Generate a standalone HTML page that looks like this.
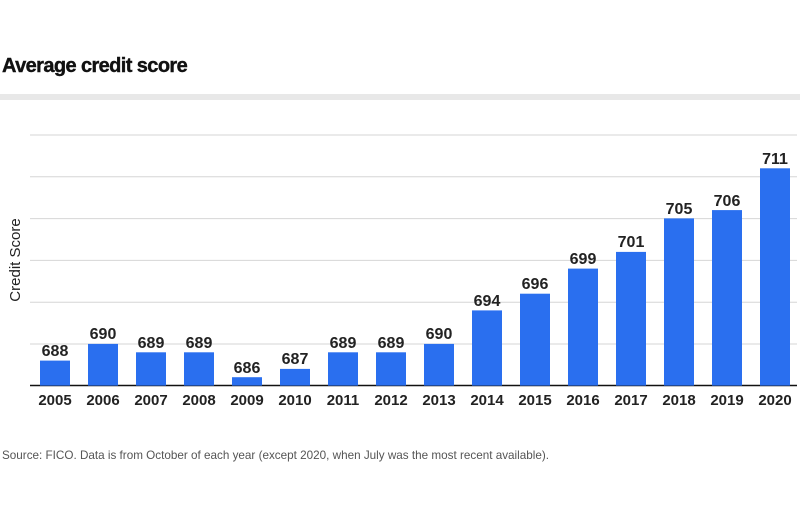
<!DOCTYPE html>
<html><head><meta charset="utf-8"><style>
body{margin:0;background:#fff;width:800px;height:500px;overflow:hidden;font-family:"Liberation Sans",sans-serif}
</style></head><body>
<svg width="800" height="500" xmlns="http://www.w3.org/2000/svg" font-family="Liberation Sans, sans-serif">
<text x="2" y="72" font-size="20" font-weight="900" fill="#111" letter-spacing="-0.6" stroke="#111" stroke-width="0.4">Average credit score</text>
<rect x="0" y="94" width="800" height="6" fill="#e8e8e8"/>
<g stroke="#d6d6d6" stroke-width="1">
<line x1="30" x2="797" y1="135" y2="135"/><line x1="30" x2="797" y1="176.8" y2="176.8"/>
<line x1="30" x2="797" y1="218.6" y2="218.6"/><line x1="30" x2="797" y1="260.4" y2="260.4"/>
<line x1="30" x2="797" y1="302.2" y2="302.2"/><line x1="30" x2="797" y1="344" y2="344"/>
</g>
<text transform="translate(20,260) rotate(-90)" text-anchor="middle" font-size="15" fill="#222">Credit Score</text>
<line x1="30" x2="797" y1="385.5" y2="385.5" stroke="#111" stroke-width="1.5"/>
<text x="2" y="459" font-size="11.7" fill="#555">Source: FICO. Data is from October of each year (except 2020, when July was the most recent available).</text>
<g fill="#2a6fef">
<rect x="40" y="360.6" width="30" height="25"/><rect x="88" y="343.9" width="30" height="41.7"/>
<rect x="136" y="352.3" width="30" height="33.3"/><rect x="184" y="352.3" width="30" height="33.3"/>
<rect x="232" y="377.2" width="30" height="8.4"/><rect x="280" y="368.9" width="30" height="16.7"/>
<rect x="328" y="352.3" width="30" height="33.3"/><rect x="376" y="352.3" width="30" height="33.3"/>
<rect x="424" y="343.9" width="30" height="41.7"/><rect x="472" y="310.4" width="30" height="75.2"/>
<rect x="520" y="293.7" width="30" height="91.9"/><rect x="568" y="268.6" width="30" height="117"/>
<rect x="616" y="251.9" width="30" height="133.7"/><rect x="664" y="218.4" width="30" height="167.2"/>
<rect x="712" y="210.1" width="30" height="175.5"/><rect x="760" y="168.3" width="30" height="217.3"/>
</g>
<g font-size="16" font-weight="600" fill="#222" text-anchor="middle">
<text x="55" y="356">688</text><text x="103" y="339">690</text><text x="151" y="348">689</text><text x="199" y="348">689</text>
<text x="247" y="373">686</text><text x="295" y="364">687</text><text x="343" y="348">689</text><text x="391" y="348">689</text>
<text x="439" y="339">690</text><text x="487" y="306">694</text><text x="535" y="289">696</text><text x="583" y="264">699</text>
<text x="631" y="247">701</text><text x="679" y="214">705</text><text x="727" y="206">706</text><text x="775" y="164">711</text>
</g>
<g font-size="15" font-weight="600" fill="#222" text-anchor="middle">
<text x="55" y="405">2005</text><text x="103" y="405">2006</text><text x="151" y="405">2007</text><text x="199" y="405">2008</text>
<text x="247" y="405">2009</text><text x="295" y="405">2010</text><text x="343" y="405">2011</text><text x="391" y="405">2012</text>
<text x="439" y="405">2013</text><text x="487" y="405">2014</text><text x="535" y="405">2015</text><text x="583" y="405">2016</text>
<text x="631" y="405">2017</text><text x="679" y="405">2018</text><text x="727" y="405">2019</text><text x="775" y="405">2020</text>
</g>
</svg>
</body></html>
